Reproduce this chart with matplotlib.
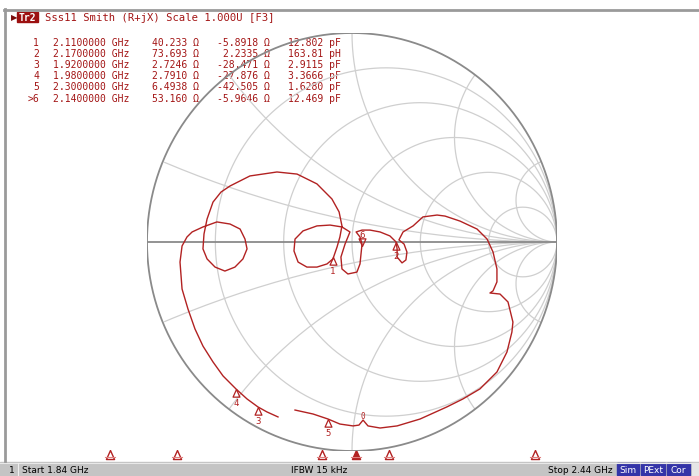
import numpy as np
import matplotlib.pyplot as plt
from matplotlib.patches import Rectangle

##################################
# Data read from the analyzer screen
f_start, f_stop = 1.84, 2.44  # GHz
ifbw = "15 kHz"
title = "Sss11 Smith (R+jX) Scale 1.000U [F3]"

mk_id = ["1", "2", "3", "4", "5", ">6"]
mk_freq = [2.11, 2.17, 1.92, 1.98, 2.30, 2.14]  # GHz
mk_res = ["40.233", "73.693", "2.7246", "2.7910", "6.4938", "53.160"]
mk_reac = ["-5.8918", "2.2335", "-28.471", "-27.876", "-42.505", "-5.9646"]
mk_elem = ["12.802 pF", "163.81 pH", "2.9115 pF", "3.3666 pF", "1.6280 pF", "12.469 pF"]
# marker positions on the trace (reflection coefficient)
mk_gre = [-0.093, 0.215, -0.459, -0.566, -0.117, 0.049]
mk_gim = [-0.072, 0.000, -0.789, -0.703, -0.847, -0.020]

# S11 trace, reflection coefficient, from 1.84 GHz to 2.44 GHz
g_re = [-0.361, -0.415, -0.459, -0.512, -0.566, -0.629, -0.678, -0.727, -0.766, -0.800,
        -0.829, -0.839, -0.829, -0.805, -0.780, -0.727, -0.659, -0.595, -0.546, -0.522,
        -0.512, -0.532, -0.571, -0.620, -0.668, -0.707, -0.727, -0.722, -0.707, -0.678,
        -0.639, -0.595, -0.498, -0.366, -0.268, -0.171, -0.098, -0.063, -0.049, -0.059,
        -0.073, -0.093, -0.122, -0.171, -0.220, -0.263, -0.283, -0.278, -0.239, -0.171,
        -0.107, -0.049, -0.010, -0.034, -0.054, -0.049, -0.020, 0.024, 0.039, 0.044,
        0.049, 0.039, 0.020, 0.049, 0.088, 0.137, 0.185, 0.215, 0.220, 0.220,
        0.244, 0.263, 0.268, 0.254, 0.229, 0.249, 0.298, 0.346, 0.415, 0.454,
        0.527, 0.610, 0.659, 0.688, 0.707, 0.707, 0.688, 0.673, 0.722, 0.761,
        0.785, 0.780, 0.756, 0.707, 0.624, 0.541, 0.463, 0.332, 0.220, 0.137,
        0.078, 0.054, 0.034, 0.005, -0.059, -0.117, -0.190, -0.278]
g_im = [-0.837, -0.813, -0.789, -0.751, -0.703, -0.641, -0.574, -0.498, -0.416, -0.321,
        -0.225, -0.096, -0.019, 0.024, 0.048, 0.072, 0.096, 0.086, 0.062, 0.014,
        -0.033, -0.081, -0.120, -0.139, -0.120, -0.081, -0.033, 0.038, 0.110, 0.191,
        0.239, 0.268, 0.316, 0.335, 0.325, 0.278, 0.206, 0.144, 0.077, 0.024,
        -0.024, -0.081, -0.105, -0.120, -0.120, -0.096, -0.043, 0.014, 0.053, 0.077,
        0.081, 0.072, 0.048, -0.010, -0.072, -0.129, -0.153, -0.144, -0.105, -0.057,
        -0.010, 0.024, 0.048, 0.057, 0.057, 0.048, 0.029, 0.000, -0.033, -0.072,
        -0.100, -0.086, -0.048, -0.010, 0.010, 0.048, 0.077, 0.120, 0.129, 0.124,
        0.100, 0.062, 0.014, -0.048, -0.129, -0.191, -0.234, -0.244, -0.249, -0.287,
        -0.383, -0.431, -0.526, -0.622, -0.703, -0.751, -0.789, -0.847, -0.880, -0.890,
        -0.880, -0.852, -0.876, -0.880, -0.871, -0.847, -0.823, -0.804]

r_grid = [0.2, 0.5, 1, 2, 5]
x_grid = [0.2, 0.5, 1, 2, 5]

##################################
# Colours
red = "#b22222"
txt_red = "#a31515"
grid_c = "#cfcfcf"
frame_c = "#8a8a8a"

fig = plt.figure(figsize=(6.99, 4.77), dpi=100)
fig.patch.set_facecolor("white")

# overlay in screen pixels for texts and frame
ov = fig.add_axes([0, 0, 1, 1])
ov.set_xlim(0, 699)
ov.set_ylim(477, 0)
ov.axis("off")

# smith chart axes (data = reflection coefficient)
sa = fig.add_axes([147/699, (477-452)/477, 410/699, 418/477])
sa.set_xlim(-1, 1)
sa.set_ylim(-1, 1)
sa.axis("off")

##################################
# Smith grid
t = np.linspace(0, 2*np.pi, 721)
for r in r_grid:
    c, rad = r/(1+r), 1/(1+r)
    sa.plot(c + rad*np.cos(t), rad*np.sin(t), color=grid_c, lw=0.9)
for x in x_grid:
    for s in (1, -1):
        xc, yc, rad = 1.0, s/x, 1/x
        zr = xc + rad*np.cos(t)
        zi = yc + rad*np.sin(t)
        inside = zr**2 + zi**2 <= 1.0001
        zr = np.where(inside, zr, np.nan)
        zi = np.where(inside, zi, np.nan)
        sa.plot(zr, zi, color=grid_c, lw=0.9)
sa.plot(np.cos(t), np.sin(t), color=frame_c, lw=1.3)
sa.plot([-1, 1], [0, 0], color=frame_c, lw=1.3)

##################################
# Trace
sa.plot(g_re, g_im, color=red, lw=1.0)

# markers on the trace
tri_up = [(0, 0), (-0.45, -1), (0.45, -1), (0, 0)]
tri_dn = [(0, 0), (-0.45, 1), (0.45, 1), (0, 0)]
for i, lab in enumerate(mk_id):
    if lab.startswith(">"):
        sa.plot(mk_gre[i], mk_gim[i], marker=tri_dn, ms=11, mfc="none", mec=red, mew=0.9)
        sa.annotate(lab[1:], (mk_gre[i], mk_gim[i]), xytext=(0, 8.5), textcoords="offset points",
                    ha="center", va="center", color=red, fontsize=6.5, family="DejaVu Sans Mono")
    else:
        sa.plot(mk_gre[i], mk_gim[i], marker=tri_up, ms=11, mfc="none", mec=red, mew=0.9)
        sa.annotate(lab, (mk_gre[i], mk_gim[i]), xytext=(0, -9.5), textcoords="offset points",
                    ha="center", va="center", color=red, fontsize=6.5, family="DejaVu Sans Mono")
sa.text(0.054, -0.852, "0", color=red, fontsize=5.5, ha="center", va="bottom", family="DejaVu Sans Mono")

##################################
# Stimulus marker triangles along the bottom
x0, x1 = 21, 691
for lab, f in zip(mk_id, mk_freq):
    px = x0 + (f - f_start)/(f_stop - f_start)*(x1 - x0)
    ov.plot(px, 451, marker=tri_up, ms=13, mfc=(red if lab.startswith(">") else "white"),
            mec=red, mew=1.0)
    ov.plot([px-5, px+5], [458, 458], color="#e08080", lw=0.8)

##################################
# Frame
ov.plot([4, 699], [10.5, 10.5], color="#9a9a9a", lw=2)
ov.plot([4.5, 4.5], [10, 463], color="#9a9a9a", lw=2)

##################################
# Header text
ov.text(10.5, 18, "\u25B6", color="#7a0c0c", fontsize=6, ha="left", va="center")
ov.add_patch(Rectangle((17, 13), 21, 10, color="#9c1010"))
ov.text(27.5, 18, "Tr2", color="white", fontsize=7, fontweight="bold", ha="center", va="center",
        family="DejaVu Sans Mono")
ov.text(45, 18, title, color=txt_red, fontsize=7.6, ha="left", va="center", family="DejaVu Sans Mono")

for i in range(len(mk_id)):
    y = 42.5 + 11.2*i
    kw = dict(color=txt_red, fontsize=7.0, va="center", family="DejaVu Sans Mono")
    ov.text(39, y, mk_id[i], ha="right", **kw)
    ov.text(53, y, f"{mk_freq[i]:.7f} GHz", ha="left", **kw)
    ov.text(199, y, mk_res[i] + " \u03A9", ha="right", **kw)
    ov.text(270, y, mk_reac[i] + " \u03A9", ha="right", **kw)
    ov.text(341, y, mk_elem[i], ha="right", **kw)

##################################
# Status bar
ov.add_patch(Rectangle((0, 463), 699, 14, color="#c4c4c4"))
ov.plot([0, 699], [463.5, 463.5], color="#e8e8e8", lw=0.8)
sk = dict(color="black", fontsize=6.5, va="center", family="DejaVu Sans")
ov.text(12, 470.5, "1", ha="center", **sk)
ov.plot([18, 18], [464, 477], color="#eeeeee", lw=0.8)
ov.text(22, 470.5, f"Start {f_start:.2f} GHz", ha="left", **sk)
ov.text(319, 470.5, f"IFBW {ifbw}", ha="center", **sk)
ov.text(580, 470.5, f"Stop {f_stop:.2f} GHz", ha="center", **sk)
for lab, xa, xb in [("Sim", 617, 639), ("PExt", 641, 665), ("Cor", 667, 690)]:
    ov.add_patch(Rectangle((xa, 464), xb - xa, 12, color="#3434a8"))
    ov.text((xa + xb)/2, 470.5, lab, ha="center", va="center", color="white", fontsize=6.5)
ov.add_patch(Rectangle((692, 464), 7, 12, color="#e6e6e6"))

fig.savefig("out.png", dpi=100)
